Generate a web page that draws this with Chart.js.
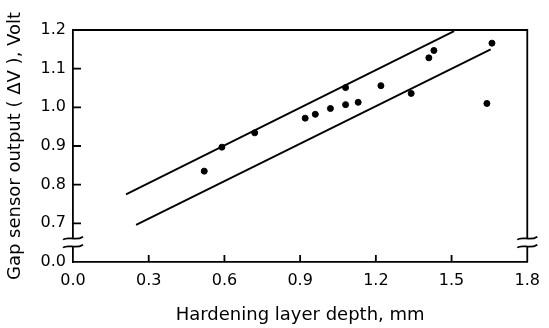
<!DOCTYPE html>
<html>
<head>
<meta charset="utf-8">
<script src="https://cdn.jsdelivr.net/npm/chart.js@4/dist/chart.umd.min.js"></script>
<style>
  html, body { margin:0; padding:0; background:#fff; }
  #wrap { width:549px; height:328px; }
</style>
</head>
<body>
<div id="wrap"><canvas id="chart"></canvas></div>
<script>
// measured points (hardening depth mm, gap sensor output V)
const depthMm = [0.52, 0.59, 0.72, 0.92, 0.96, 1.02, 1.08, 1.08, 1.13, 1.22, 1.34, 1.41, 1.43, 1.64, 1.66];
const outputV = [0.835, 0.897, 0.934, 0.972, 0.982, 0.997, 1.051, 1.007, 1.013, 1.056, 1.036, 1.128, 1.147, 1.010, 1.166];

// band lines (start / end)
const upperX = [0.21, 1.51];
const upperY = [0.775, 1.197];
const lowerX = [0.25, 1.655];
const lowerY = [0.696, 1.150];

const xTicks = [0, 0.3, 0.6, 0.9, 1.2, 1.5, 1.8];
const yTicks = [0.6, 0.7, 0.8, 0.9, 1.0, 1.1, 1.2];   // 0.6 slot is shown as 0.0 (broken axis)

const FONT = "'DejaVu Sans', sans-serif";

function toPts(xs, ys){ return xs.map((x,i)=>({x:x, y:ys[i]})); }

// inward ticks, top/right frame, axis break marks
const framePlugin = {
    id:"frame",
    afterDraw(chart){
        const {ctx, chartArea:a, scales:{x, y}} = chart;
        ctx.save();
        ctx.strokeStyle = "#000";
        ctx.lineWidth = 1.8;
        ctx.beginPath();
        ctx.moveTo(a.left, a.top); ctx.lineTo(a.right, a.top); ctx.lineTo(a.right, a.bottom);
        xTicks.slice(1, -1).forEach(v => {
            const px = x.getPixelForValue(v);
            ctx.moveTo(px, a.bottom); ctx.lineTo(px, a.bottom - 7);
        });
        yTicks.slice(1, -1).forEach(v => {
            const py = y.getPixelForValue(v);
            ctx.moveTo(a.left, py); ctx.lineTo(a.left + 8, py);
        });
        ctx.stroke();

        // break marks
        const yb = y.getPixelForValue(0.65);
        [a.left, a.right].forEach(px => {
            ctx.fillStyle = "#fff";
            ctx.fillRect(px - 2, yb - 4, 4, 8);
            ctx.beginPath();
            [-4, 4].forEach(d => {
                ctx.moveTo(px - 10, yb + d + 1);
                ctx.bezierCurveTo(px - 5, yb + d - 3, px + 3, yb + d + 3, px + 10, yb + d - 2);
            });
            ctx.stroke();
        });
        ctx.restore();
    }
};

new Chart(document.getElementById("chart"),{
    type:"scatter",
    data:{
        datasets:[{
            data:toPts(depthMm, outputV),
            backgroundColor:"#000",
            borderColor:"#000",
            pointRadius:3,
            pointHoverRadius:3
        },{
            type:"line",
            data:toPts(upperX, upperY),
            borderColor:"#000",
            borderWidth:1.8,
            pointRadius:0,
            fill:false
        },{
            type:"line",
            data:toPts(lowerX, lowerY),
            borderColor:"#000",
            borderWidth:1.8,
            pointRadius:0,
            fill:false
        }]
    },
    options:{
        responsive:true,
        maintainAspectRatio:false,
        animation:false,
        layout:{ padding:{ left:0, right:18, top:30, bottom:0 } },
        plugins:{
            legend:{ display:false },
            tooltip:{ enabled:false }
        },
        scales:{
            x:{
                type:"linear",
                min:0, max:1.8,
                afterFit(s){ s.height = 66; },
                afterBuildTicks(s){ s.ticks = xTicks.map(v => ({value:v})); },
                grid:{ display:false, drawTicks:false },
                border:{ display:true, color:"#000", width:1.8 },
                ticks:{
                    padding:9,
                    color:"#000",
                    font:{ family:FONT, size:16 },
                    callback:v => v.toFixed(1)
                },
                title:{
                    display:true,
                    text:"Hardening layer depth, mm",
                    color:"#000",
                    font:{ family:FONT, size:18 },
                    padding:{ top:0, bottom:2 }
                }
            },
            y:{
                type:"linear",
                min:0.6, max:1.2,
                afterFit(s){ s.width = 73; },
                afterBuildTicks(s){ s.ticks = yTicks.map(v => ({value:v})); },
                grid:{ display:false, drawTicks:false },
                border:{ display:true, color:"#000", width:1.8 },
                ticks:{
                    padding:7,
                    color:"#000",
                    font:{ family:FONT, size:16 },
                    callback:v => Math.abs(v - 0.6) < 1e-6 ? "0.0" : v.toFixed(1)
                },
                title:{
                    display:true,
                    text:"Gap sensor output ( ΔV ), Volt",
                    color:"#000",
                    font:{ family:FONT, size:18 },
                    padding:{ top:5, bottom:0 }
                }
            }
        }
    },
    plugins:[framePlugin]
});
</script>
</body>
</html>
